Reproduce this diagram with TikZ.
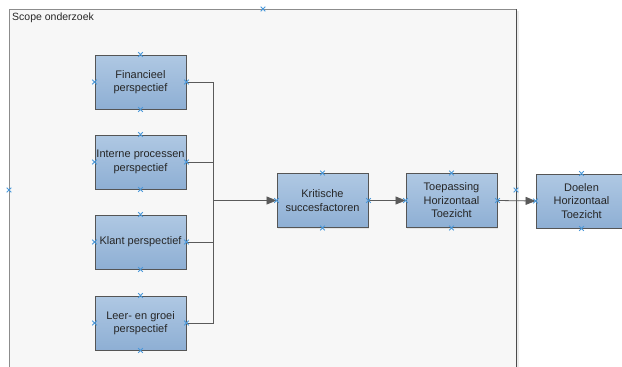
\documentclass[tikz,border=0pt]{standalone}
\usepackage{fontspec}
\setmainfont{Liberation Sans}
\usetikzlibrary{arrows.meta,shadows}
\definecolor{boxtop}{HTML}{AFC8E3}
\definecolor{boxbot}{HTML}{8EAFD4}
\definecolor{boxline}{HTML}{555555}
\definecolor{wire}{HTML}{5A5A5A}
\definecolor{cpblue}{HTML}{4A98DA}
\definecolor{panel}{HTML}{F7F7F7}
\tikzset{
  block/.style={draw=boxline, line width=0.9pt, top color=boxtop, bottom color=boxbot,
    minimum width=91pt, minimum height=54pt, inner sep=1pt, align=center,
    font=\fontsize{11}{13.5}\selectfont, text=black!85,
    drop shadow={shadow xshift=1.2pt, shadow yshift=-1.2pt, opacity=0.2, fill=black!40}},
  wireline/.style={draw=wire, line width=0.8pt},
  flow/.style={wireline, -{Triangle[length=10pt,width=8pt]}},
  cpx/.pic={\draw[cpblue, line width=0.8pt] (-2.3,-2.3) -- (2.3,2.3) (-2.3,2.3) -- (2.3,-2.3);}
}
\begin{document}
\begin{tikzpicture}[x=1pt, y=-1pt]
\useasboundingbox (0,0) rectangle (622,367);
\begin{scope}
\clip (0,0) rectangle (622,367);
\fill[white] (0,0) rectangle (622,367);
% container panel with a faint shadow on the right
\fill[black!8] (516,11) rectangle (519,380);
\path[top color=panel, bottom color=white!97!black] (9,9) rectangle (516,380);
\draw[black!45, line width=0.9pt] (9,380) -- (9,9) -- (516,9);
\draw[black!70, line width=0.9pt] (516,9) -- (516,380);
\node[anchor=north west, inner sep=0pt, font=\fontsize{10.5}{12}\selectfont, text=black!85] (scope) at (12,13) {Scope onderzoek};
\pic at (263,9) {cpx};
\pic at (9,190) {cpx};

% perspective blocks
\node[block] (fin) at (140.5,82) {Financieel\\perspectief};
\node[block] (int) at (140.5,162) {Interne processen\\perspectief};
\node[block] (kla) at (140.5,242) {Klant perspectief};
\node[block] (leer) at (140.5,323) {Leer- en groei\\perspectief};
\node[block] (ksf) at (322.5,200.5) {Kritische\\succesfactoren};
\node[block] (toep) at (451.5,200.5) {Toepassing\\Horizontaal\\Toezicht};
\node[block] (doel) at (581.5,201) {Doelen\\Horizontaal\\Toezicht};

% collecting bus
\coordinate (bus) at (213,200.5);
\draw[wireline] (fin.east) -| (bus);
\draw[wireline] (int.east) -| (bus);
\draw[wireline] (kla.east) -| (bus);
\draw[wireline] (leer.east) -| (bus);
\draw[flow] (bus) -- (ksf.west);
\draw[flow] (ksf.east) -- (toep.west);
\draw[flow] (toep.east) -- (doel.west);

% connection points
\foreach \n in {fin,int,kla,leer,ksf,toep,doel}{
  \pic at (\n.north) {cpx};
  \pic at (\n.south) {cpx};
  \pic at (\n.west) {cpx};
  \pic at (\n.east) {cpx};
}
\pic at (516,190) {cpx};
\end{scope}
\end{tikzpicture}
\end{document}
